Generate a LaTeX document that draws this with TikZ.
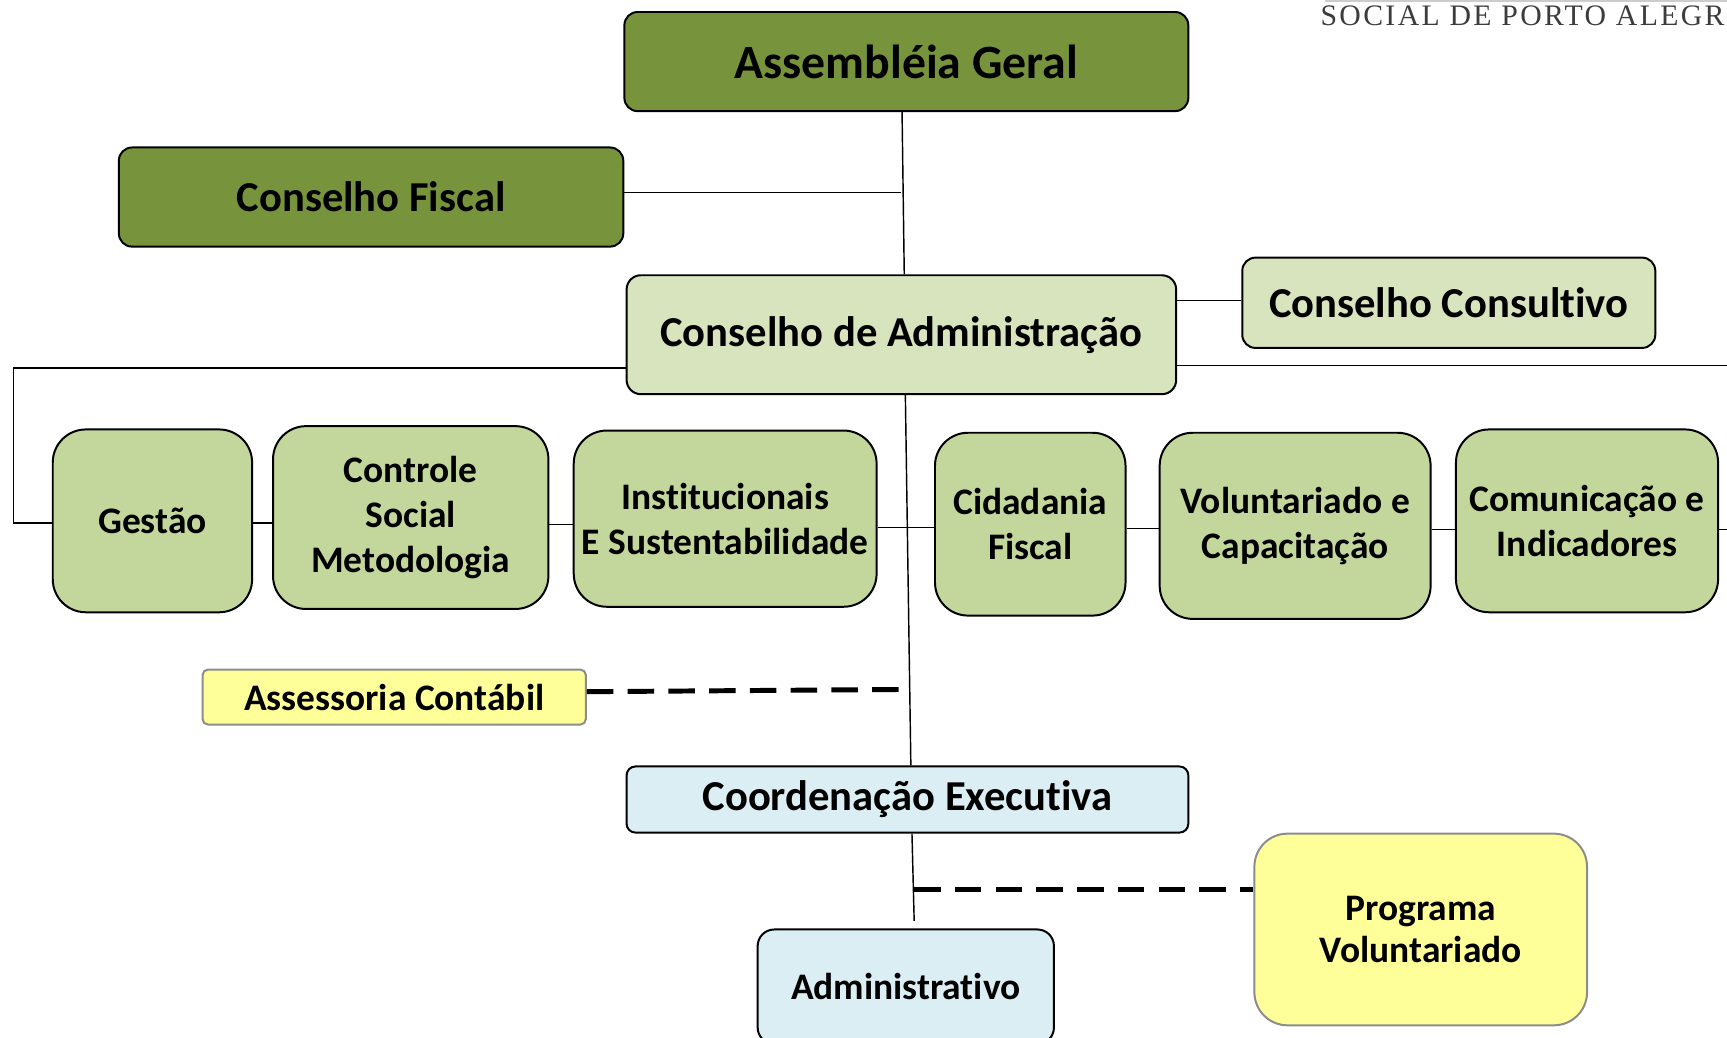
\documentclass[tikz,border=0pt]{standalone}
\usepackage{fontspec}
\setmainfont[Ligatures=CommonOff]{Carlito}
\newfontfamily\hdrfont[LetterSpace=8]{Liberation Serif}
\definecolor{dkgreen}{HTML}{77933C}
\definecolor{ltgreen}{HTML}{D7E4BD}
\definecolor{mdgreen}{HTML}{C3D69B}
\definecolor{ltyellow}{HTML}{FFFF99}
\definecolor{ltblue}{HTML}{DBEEF4}
\definecolor{hdrgray}{HTML}{3C3C3C}
\begin{document}
\begin{tikzpicture}[x=1pt,y=-1pt,
  base/.style={draw=black, line width=1.8pt, align=center, inner sep=0pt, anchor=north west, font=\bfseries},
  bigtxt/.style={font=\fontsize{38.7}{42}\selectfont\bfseries},
  midtxt/.style={font=\fontsize{34}{41}\selectfont\bfseries},
  topbox/.style={base, bigtxt, fill=dkgreen, rounded corners=12pt},
  admbox/.style={base, bigtxt, fill=ltgreen, rounded corners=13pt},
  rowbox/.style={base, midtxt, fill=mdgreen, rounded corners=30pt},
  notebox/.style={base, midtxt, fill=ltyellow, draw=black!45},
  bluebox/.style={base, fill=ltblue},
  conn/.style={line width=1.3pt},
  dashconn/.style={line width=4.5pt, dash pattern=on 24pt off 13pt}
]
\useasboundingbox (0,0) rectangle (1568,942.4);

% header fragment
\draw[black!20, line width=1.5pt] (1203,1) -- (1568,1);
\node[anchor=base east, inner sep=0pt, text=hdrgray, font=\hdrfont\fontsize{27}{30}\selectfont] (hdr) at (1566,23) {SOCIAL DE PORTO ALEGR};

% top boxes
\node[topbox, font=\fontsize{43.4}{46}\selectfont\bfseries, minimum width=512pt, minimum height=90pt] (ag) at (566,10) {Assembléia Geral};
\node[topbox, minimum width=458pt, minimum height=90pt] (cf) at (107,133) {Conselho Fiscal};
\node[admbox, minimum width=499pt, minimum height=108pt] (ca) at (568,249) {Conselho de Administração};
\node[admbox, rounded corners=12pt, minimum width=375pt, minimum height=82pt] (cc) at (1127,233) {Conselho Consultivo};

% row
\node[rowbox, minimum width=181pt, minimum height=166pt] (ges) at (47,389) {Gestão};
\node[rowbox, minimum width=250pt, minimum height=166pt] (ctl) at (247,386) {Controle\\Social\\Metodologia};
\node[rowbox, minimum width=275pt, minimum height=160pt] (ins) at (520,390) {Institucionais\\E Sustentabilidade};
\node[rowbox, minimum width=173pt, minimum height=166pt] (cid) at (848,392) {Cidadania\\Fiscal};
\node[rowbox, minimum width=246pt, minimum height=169pt] (vol) at (1052,392) {Voluntariado e\\Capacitação};
\node[rowbox, minimum width=238pt, minimum height=166pt] (com) at (1321,389) {Comunicação e\\Indicadores};

% lower boxes
\node[notebox, rounded corners=5pt, minimum width=348pt, minimum height=50pt] (ass) at (183,607) {Assessoria Contábil};
\node[bluebox, bigtxt, rounded corners=8pt, minimum width=510pt, minimum height=60pt] (ce) at (568,695) {Coordenação Executiva};
\node[bluebox, midtxt, rounded corners=15pt, minimum width=269pt, minimum height=104pt] (adm) at (687,843) {Administrativo};
\node[notebox, rounded corners=30pt, minimum width=302pt, minimum height=174pt, font=\fontsize{34}{39}\selectfont\bfseries] (prog) at (1138,756) {Programa\\Voluntariado};

% free ends
\coordinate (jcf) at (818,175);
\coordinate (lft) at (12,334);
\coordinate (rgt1) at (1568,332);
\coordinate (rgt2) at (1568,481);
\coordinate (jass) at (818,626);
\coordinate (admend) at (830,836);
\coordinate (jprog) at (830,808);

% connectors
\draw[conn] (ag.south -| 819,0) -- (ca.north -| 821,0);
\draw[conn] (cf.east |- 0,175) -- (jcf);
\draw[conn] (ca.east |- 0,273) -- (cc.west |- 0,273);
\draw[conn] (ca.west |- 0,334) -- (lft) -- (12,475) -- (ges.west |- 0,475);
\draw[conn] (ca.east |- 0,332) -- (rgt1);
\draw[conn] (ges.east |- 0,475) -- (ctl.west |- 0,475);
\draw[conn] (ctl.east |- 0,476) -- (ins.west |- 0,476);
\draw[conn] (ins.east |- 0,479) -- (cid.west |- 0,479);
\draw[conn] (cid.east |- 0,480) -- (vol.west |- 0,480);
\draw[conn] (vol.east |- 0,481) -- (com.west |- 0,481);
\draw[conn] (com.east |- 0,481) -- (rgt2);
\draw[conn] (ca.south -| 822,0) -- (ce.north -| 827,0);
\draw[dashconn] (ass.east |- 0,628) -- (jass);
\draw[conn] (ce.south -| 828,0) -- (admend);
\draw[dashconn] (jprog) -- (prog.west |- 0,808);
\end{tikzpicture}
\end{document}
